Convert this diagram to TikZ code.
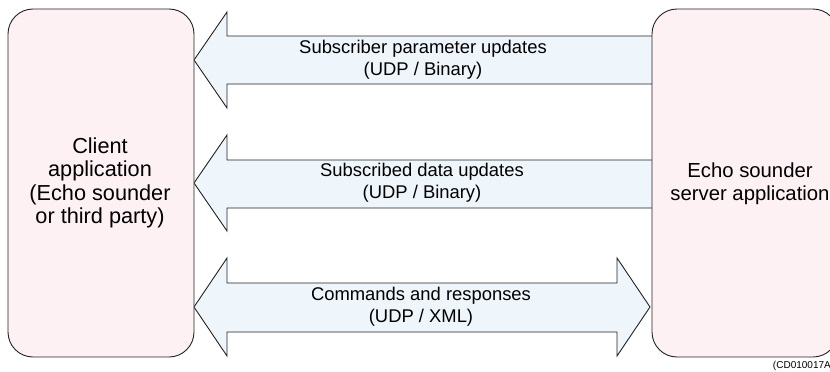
\documentclass[tikz,border=0pt]{standalone}
\usepackage{fontspec}
\setmainfont{Liberation Sans}
\definecolor{boxfill}{HTML}{FDF1F4}
\definecolor{arrfill}{HTML}{EEF6FC}
\definecolor{edge}{HTML}{222222}
\begin{document}
\begin{tikzpicture}[x=1pt,y=-1pt,
  appbox/.style={draw=edge,line width=0.9pt,fill=boxfill,rounded corners=25pt},
  blockarrow/.style={draw=edge,line width=0.9pt,fill=arrfill,line join=miter},
  arrlabel/.style={font=\fontsize{18.4}{22}\selectfont,align=center,inner sep=0pt},
  boxlabel/.style={font=\fontsize{21.7}{23.3}\selectfont,align=center,inner sep=0pt}]
\useasboundingbox (0,0) rectangle (830,372);
% arrows
\draw[blockarrow] (194,60) -- (227,12) -- (227,36) -- (655,36) -- (655,84) -- (227,84) -- (227,108) -- cycle;
\draw[blockarrow] (194,183) -- (227,135) -- (227,160) -- (655,160) -- (655,208) -- (227,208) -- (227,231) -- cycle;
\draw[blockarrow] (194,307) -- (227,258) -- (227,283) -- (617,283) -- (617,258) -- (650,307) -- (617,356) -- (617,332) -- (227,332) -- (227,356) -- cycle;
% boxes
\draw[appbox] (8,9) rectangle (194,357);
\draw[appbox] (652,9) rectangle (838,357);
\node[boxlabel] (client) at (100,183) {Client\\application\\(Echo sounder\\or third party)};
\node[boxlabel,font=\fontsize{20.3}{23.3}\selectfont] (server) at (750,184) {Echo sounder\\server application};
% labels
\node[arrlabel] (l1) at (423,60) {Subscriber parameter updates\\(UDP / Binary)};
\node[arrlabel] (l2) at (422,183) {Subscribed data updates\\(UDP / Binary)};
\node[arrlabel] (l3) at (421,307) {Commands and responses\\(UDP / XML)};
\node[font=\fontsize{10}{12}\selectfont,anchor=south east,inner sep=0pt] (ref) at (831,371) {(CD010017A};
\end{tikzpicture}
\end{document}
